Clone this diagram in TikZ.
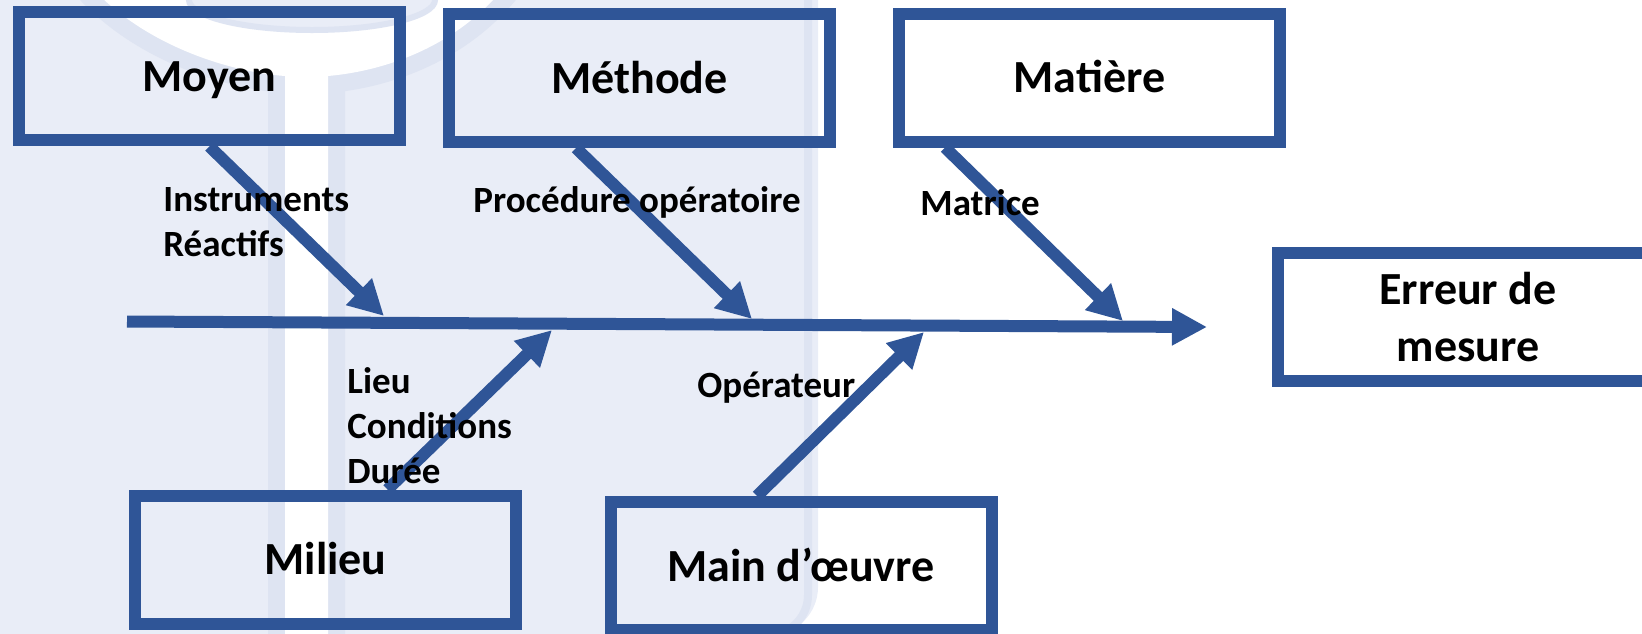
\documentclass[tikz,border=0pt]{standalone}
\usepackage{fontspec}
\setmainfont{Carlito}
\usetikzlibrary{arrows.meta}
\definecolor{boneblue}{RGB}{47,85,151}
\definecolor{wmlav}{RGB}{233,237,247}
\definecolor{wmline}{RGB}{222,228,242}
\tikzset{
  box/.style={draw=boneblue, line width=6pt, minimum width=190.5pt, minimum height=64pt, inner sep=0pt,
    font=\fontsize{23pt}{28.5pt}\selectfont\bfseries},
  cause/.style={box, text height=15pt, text depth=0pt},
  effect/.style={box, align=center},
  bone/.style={draw=boneblue, line width=6pt, -{Triangle[length=17.5pt,width=17.5pt]}},
  note/.style={font=\fontsize{18.5pt}{22.5pt}\selectfont\bfseries, align=left, anchor=base west, inner sep=0pt}
}
\begin{document}
\begin{tikzpicture}[x=0.5pt,y=-0.5pt]
  \useasboundingbox (0,0) rectangle (1642,633);
  \clip (0,0) rectangle (1642,633);
  % watermark
  \fill[wmlav, rounded corners=24pt] (-100,-100) rectangle (818,635);
  \draw[wmline, line width=4pt] (808,-100) -- (808,595) arc[start angle=0, end angle=90, radius=40];
  \fill[white, preaction={draw=wmline, line width=17pt}]
    (85,-20) .. controls (140,45) and (230,72) .. (285,76) -- (285,700) -- (328,700)
    -- (328,76) .. controls (395,70) and (465,40) .. (510,-20) -- cycle;
  \filldraw[fill=wmlav, draw=wmline, line width=3pt] (312,0) ellipse [x radius=123, y radius=30];
  % boxes
  \node[cause] (moyen) at (209.4,76.4) {Moyen};
  \node[cause] (methode) at (639.5,78) {Méthode};
  \node[cause] (matiere) at (1089.5,77.5) {Matière};
  \node[effect] (erreur) at (1468,317) {Erreur de\\mesure};
  \node[cause] (milieu) at (325.5,559.5) {Milieu};
  \node[cause] (main) at (801,566) {Main d’œuvre};
  % spine
  \coordinate (tail) at (127,321.5);
  \coordinate (head) at (1207,327);
  \draw[bone] (tail) -- (head);
  % tips on the spine
  \coordinate (tMoyen) at (384,316);
  \coordinate (tMethode) at (752,319);
  \coordinate (tMatiere) at (1123,321);
  \coordinate (tMilieu) at (552,330);
  \coordinate (tMain) at (924,332);
  % bones
  \draw[bone] (moyen.south) -- (tMoyen);
  \draw[bone] ([shift={(-63.5,0)}]methode.south) -- (tMethode);
  \draw[bone] ([shift={(-144.5,0)}]matiere.south) -- (tMatiere);
  \draw[bone] ([shift={(62,0)}]milieu.north) -- (tMilieu);
  \draw[bone] ([shift={(-44,0)}]main.north) -- (tMain);
  % labels (base = last line)
  \node[note] (lMoyen) at (163,256) {Instruments\\Réactifs};
  \node[note] (lMethode) at (473,212) {Procédure opératoire};
  \node[note] (lMatiere) at (920,215) {Matrice};
  \node[note] (lMilieu) at (347,483) {Lieu\\Conditions\\Durée};
  \node[note] (lMain) at (697,397) {Opérateur};
\end{tikzpicture}
\end{document}
